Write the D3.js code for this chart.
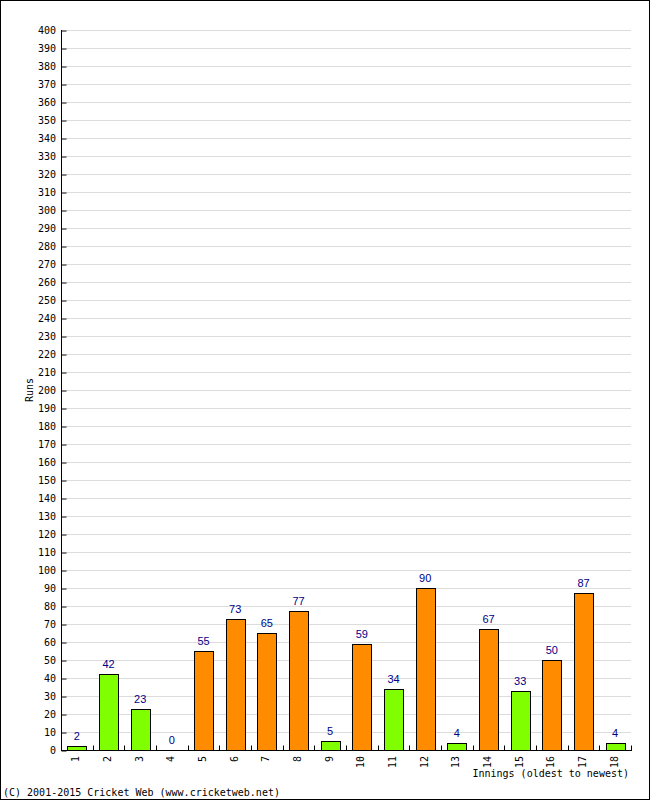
<!DOCTYPE html>
<html><head><meta charset="utf-8">
<script src="https://cdn.jsdelivr.net/npm/d3@7"></script>
<style>body{margin:0;background:#fff}svg{display:block}</style>
</head><body>
<script>
const innings = ["1","2","3","4","5","6","7","8","9","10","11","12","13","14","15","16","17","18"];
const runs = [2,42,23,0,55,73,65,77,5,59,34,90,4,67,33,50,87,4];
const barColors = ["#80ff00","#80ff00","#80ff00","#80ff00","#ff8c00","#ff8c00","#ff8c00","#ff8c00","#80ff00","#ff8c00","#80ff00","#ff8c00","#80ff00","#ff8c00","#80ff00","#ff8c00","#ff8c00","#80ff00"];
const yTicks = d3.range(0, 401, 10);

const W = 650, H = 800;
const L = 61, R = 631, T = 30, B = 750;
const mono = "'DejaVu Sans Mono', monospace";

const data = innings.map((k,i)=>({k, v: runs[i], c: barColors[i]}));

const svg = d3.select("body").append("svg").attr("width", W).attr("height", H);
svg.append("rect").attr("x",0.5).attr("y",0.5).attr("width",W-1).attr("height",H-1)
  .attr("fill","#fff").attr("stroke","#000");

const x = d3.scaleBand().domain(innings).range([L, R]).paddingInner(0.4).paddingOuter(0.2);
const xb = d3.scaleBand().domain(innings).range([L, R]);
const y = d3.scaleLinear().domain([0, 400]).range([B, T]);

// gridlines
svg.append("g").selectAll("line").data(yTicks.filter(d=>d>0)).join("line")
  .attr("x1", L+5).attr("x2", R).attr("y1", d=>y(d)+0.5).attr("y2", d=>y(d)+0.5)
  .attr("stroke", "#dcdcdc");

// bars
svg.append("g").selectAll("rect").data(data.filter(d=>d.v>0)).join("rect")
  .attr("x", d=>Math.round(x(d.k))+0.5)
  .attr("y", d=>Math.round(y(d.v))+0.5)
  .attr("width", Math.round(x.bandwidth()))
  .attr("height", d=>B-Math.round(y(d.v)))
  .attr("fill", d=>d.c)
  .attr("stroke", "#000");

// value labels
svg.append("g").selectAll("text").data(data).join("text")
  .attr("x", d=>xb(d.k)+xb.bandwidth()/2)
  .attr("y", d=>y(d.v)-6)
  .attr("text-anchor","middle")
  .attr("font-family","'Liberation Sans', Arial, sans-serif").attr("font-size",11)
  .attr("fill","#000088")
  .text(d=>d.v);

// y axis
const ya = svg.append("g").attr("transform", `translate(${L+0.5},0)`)
  .call(d3.axisRight(y).tickValues(yTicks).tickSize(5).tickFormat(""));
ya.select(".domain").attr("d", `M0,${T}V${B+0.5}`).attr("stroke","#000");
ya.selectAll(".tick line").attr("stroke","#000").attr("transform","translate(0,0.5)");
svg.append("g").selectAll("text").data(yTicks).join("text")
  .attr("x", L-5).attr("y", d=>y(d)+4)
  .attr("text-anchor","end").attr("font-family",mono).attr("font-size",10).attr("fill","#000")
  .text(d=>d);

// x axis
const xa = svg.append("g").attr("transform", `translate(0,${B+0.5})`);
xa.append("line").attr("x1", L).attr("x2", R+1).attr("stroke","#000");
xa.selectAll("line.t").data(innings).join("line").attr("class","t")
  .attr("x1", d=>Math.round(xb(d)+xb.bandwidth())+0.5).attr("x2", d=>Math.round(xb(d)+xb.bandwidth())+0.5)
  .attr("y1", 0).attr("y2", -5).attr("stroke","#000");
svg.append("g").selectAll("text").data(innings).join("text")
  .attr("transform", d=>`translate(${xb(d)+xb.bandwidth()/2-1},${B+6}) rotate(-90)`)
  .attr("text-anchor","end").attr("dominant-baseline","central")
  .attr("font-family",mono).attr("font-size",10).attr("fill","#000")
  .text(d=>d);

// axis titles
svg.append("text").attr("transform", `translate(33,390) rotate(-90)`)
  .attr("text-anchor","middle").attr("font-family",mono).attr("font-size",10).text("Runs");
svg.append("text").attr("x", 629).attr("y", 777).attr("text-anchor","end")
  .attr("font-family",mono).attr("font-size",10).text("Innings (oldest to newest)");
svg.append("text").attr("x", 3).attr("y", 796)
  .attr("font-family",mono).attr("font-size",10).text("(C) 2001-2015 Cricket Web (www.cricketweb.net)");
</script>
</body></html>
